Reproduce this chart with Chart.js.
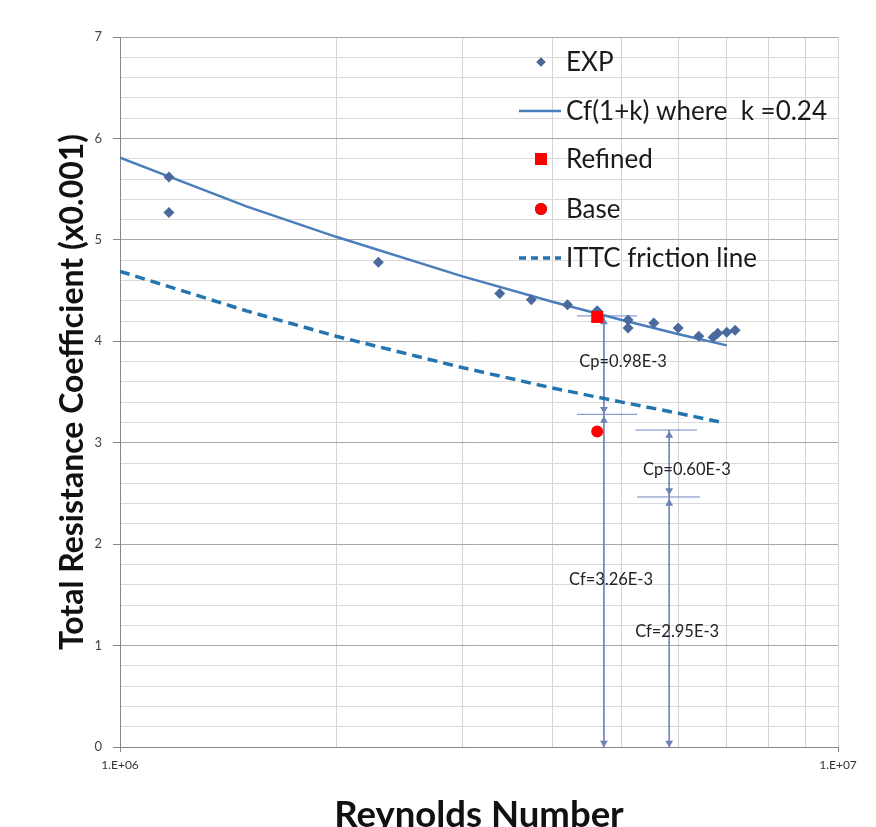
<!DOCTYPE html>
<html>
<head>
<meta charset="utf-8">
<script src="https://cdn.jsdelivr.net/npm/chart.js@4.4.1/dist/chart.umd.min.js"></script>
<style>
  html, body { margin: 0; padding: 0; background: #fff; }
</style>
</head>
<body>
<canvas id="chart" width="876" height="827"></canvas>
<script>
// axis ticks
const xGridTicks = [1e6, 2e6, 3e6, 4e6, 5e6, 6e6, 7e6, 8e6, 9e6, 1e7];
const xLabelValues = [1e6, 1e7];
const xLabelText = ["1.E+06", "1.E+07"];

// measured (EXP)
const expRe = [1.17e6, 1.17e6, 2.29e6, 3.38e6, 3.74e6, 4.20e6, 4.62e6, 5.10e6, 5.10e6, 5.54e6, 5.99e6, 6.40e6, 6.70e6, 6.80e6, 7.00e6, 7.19e6];
const expCt = [5.62, 5.27, 4.78, 4.47, 4.41, 4.36, 4.30, 4.21, 4.13, 4.18, 4.13, 4.05, 4.04, 4.08, 4.09, 4.11];

// Cf(1+k) line
const cfkRe = [1.0e6, 1.5e6, 2.0e6, 3.0e6, 4.0e6, 5.0e6, 6.0e6, 7.0e6];
const cfkCt = [5.81, 5.33, 5.03, 4.64, 4.39, 4.21, 4.07, 3.96];

// ITTC friction line
const ittcRe = [1.0e6, 1.5e6, 2.0e6, 3.0e6, 4.0e6, 5.0e6, 6.0e6, 6.9e6];
const ittcCt = [4.69, 4.30, 4.05, 3.74, 3.54, 3.40, 3.29, 3.20];

// CFD results
const refinedRe = [4.62e6];
const refinedCt = [4.24];
const baseRe = [4.62e6];
const baseCt = [3.11];

// annotation arrows
const arrowLineRe = [4.72e6, 5.82e6];
const arrowLineTop = [4.25, 3.125];
const barCt = [4.25, 3.28, 3.125, 2.465];
const barFrom = [4.33e6, 4.33e6, 5.22e6, 5.25e6];
const barTo = [5.25e6, 5.25e6, 6.36e6, 6.42e6];
const headRe = [4.72e6, 4.72e6, 4.72e6, 4.72e6, 5.82e6, 5.82e6, 5.82e6, 5.82e6];
const headCt = [4.19, 3.33, 3.22, 0.04, 3.07, 2.53, 2.40, 0.04];
const headUp = [true, false, true, false, true, false, true, false];
const noteText = ["Cp=0.98E-3", "Cf=3.26E-3", "Cp=0.60E-3", "Cf=2.95E-3"];
const noteRe = [5.02e6, 4.83e6, 6.16e6, 5.97e6];
const noteCt = [3.80, 1.65, 2.73, 1.14];

const pts = (xs, ys) => xs.map((x, i) => ({ x, y: ys[i] }));
const isInt = (v) => Math.abs(v - Math.round(v)) < 1e-6;

const arrowColor = "#7183c4";
const datasets = [
  { label: "Refined", data: pts(refinedRe, refinedCt), showLine: false,
    pointStyle: "rect", pointRadius: 8.5, backgroundColor: "#ff0000", borderColor: "#ff0000", borderWidth: 0 },
  { label: "Base", data: pts(baseRe, baseCt), showLine: false,
    pointStyle: "circle", pointRadius: 6, backgroundColor: "#ff0000", borderColor: "#ff0000", borderWidth: 0 },
  { label: "EXP", data: pts(expRe, expCt), showLine: false,
    pointStyle: "rectRot", pointRadius: 5.5, backgroundColor: "#4a6a9e", borderColor: "#4a6a9e", borderWidth: 0 },
  { label: "Cf(1+k) where  k =0.24", data: pts(cfkRe, cfkCt), showLine: true,
    borderColor: "#4a7ebb", borderWidth: 2.5, pointRadius: 0 },
  { label: "ITTC friction line", data: pts(ittcRe, ittcCt), showLine: true,
    borderColor: "#2474b0", borderWidth: 3.5, borderDash: [10, 6], pointRadius: 0 }
];
// vertical arrow shafts
arrowLineRe.forEach((re, i) => {
  datasets.push({ data: [{ x: re, y: arrowLineTop[i] }, { x: re, y: 0 }], showLine: true,
    borderColor: arrowColor, borderWidth: 1, pointRadius: 0 });
});
// horizontal bars
barCt.forEach((ct, i) => {
  datasets.push({ data: [{ x: barFrom[i], y: ct }, { x: barTo[i], y: ct }], showLine: true,
    borderColor: arrowColor, borderWidth: 1, pointRadius: 0 });
});
// arrow heads
datasets.push({ data: pts(headRe, headCt), showLine: false, pointStyle: "triangle",
  pointRadius: 4.5, pointRotation: headUp.map(u => u ? 0 : 180),
  backgroundColor: "#6a80b4", borderColor: "#6a80b4", borderWidth: 0 });

const legendRows = [
  { ds: 2, y: 62 }, { ds: 3, y: 111 }, { ds: 0, y: 159 }, { ds: 1, y: 209 }, { ds: 4, y: 258 }
];

const overlay = {
  id: "overlay",
  afterDatasetsDraw(chart) {
    const { ctx, scales: { x, y } } = chart;
    ctx.save();
    // notes
    ctx.font = "16.5px Lato";
    ctx.fillStyle = "#222";
    ctx.textAlign = "center";
    ctx.textBaseline = "middle";
    noteText.forEach((t, i) => ctx.fillText(t, x.getPixelForValue(noteRe[i]), y.getPixelForValue(noteCt[i])));
    // legend
    ctx.font = "26px Lato";
    ctx.textAlign = "left";
    legendRows.forEach(r => {
      const d = chart.data.datasets[r.ds];
      const mx = 541, my = r.y;
      if (d.showLine) {
        ctx.beginPath();
        ctx.strokeStyle = d.borderColor;
        ctx.lineWidth = d.borderWidth;
        ctx.setLineDash(d.borderDash ? [7, 5] : []);
        ctx.moveTo(519, my);
        ctx.lineTo(561, my);
        ctx.stroke();
        ctx.setLineDash([]);
      } else {
        const rad = d.pointStyle === "rectRot" ? 4.5 : d.pointRadius;
        Chart.helpers.drawPoint(ctx, { pointStyle: d.pointStyle, radius: rad, borderWidth: 0 }, mx, my);
        ctx.fillStyle = d.backgroundColor;
        ctx.fill();
      }
      ctx.fillStyle = "#1a1a1a";
      ctx.fillText(d.label, 566, my + 1);
    });
    ctx.restore();
  }
};

new Chart(document.getElementById("chart"), {
  type: "scatter",
  data: { datasets },
  plugins: [overlay],
  options: {
    responsive: false,
    animation: false,
    events: [],
    layout: { padding: { top: 37, right: 38, left: 0, bottom: 0 } },
    plugins: { legend: { display: false }, tooltip: { enabled: false } },
    scales: {
      x: {
        type: "logarithmic",
        min: 1e6, max: 1e7,
        afterBuildTicks: (s) => { s.ticks = xGridTicks.map(v => ({ value: v })); },
        afterFit: (s) => { s.height = 80; s.paddingLeft = 0; s.paddingRight = 0; },
        ticks: {
          autoSkip: false, maxRotation: 0, padding: 6,
          color: "#333", font: { family: "Lato", size: 12 },
          callback: (v) => { const i = xLabelValues.indexOf(v); return i >= 0 ? xLabelText[i] : ""; }
        },
        grid: {
          color: "#d4d4d4", lineWidth: 1, tickLength: 5,
          tickColor: (c) => xLabelValues.includes(c.tick && c.tick.value) ? "#868686" : "rgba(0,0,0,0)"
        },
        border: { color: "#868686" },
        title: {
          display: true, text: "Reynolds Number", color: "#111",
          font: { family: "Lato", size: 36.5, weight: "bold" },
          padding: { top: 0, bottom: -10 }
        }
      },
      y: {
        min: 0, max: 7,
        afterFit: (s) => { s.width = 120; s.paddingTop = 0; s.paddingBottom = 0; },
        ticks: {
          stepSize: 0.2, autoSkip: false, padding: 11,
          color: "#444", font: { family: "Lato", size: 13 },
          callback: (v) => isInt(v) ? String(Math.round(v)) : ""
        },
        grid: {
          color: (c) => isInt(c.tick.value) ? "#a8a8a8" : "#dadada",
          lineWidth: 1, tickLength: 7,
          tickColor: (c) => isInt(c.tick.value) ? "#868686" : "rgba(0,0,0,0)"
        },
        border: { color: "#868686" },
        title: {
          display: true, text: "Total Resistance Coefficient (x0.001)", color: "#111",
          font: { family: "Lato", size: 32, weight: "bold" },
          padding: { top: 53, bottom: 0 }
        }
      }
    }
  }
});
</script>
</body>
</html>
